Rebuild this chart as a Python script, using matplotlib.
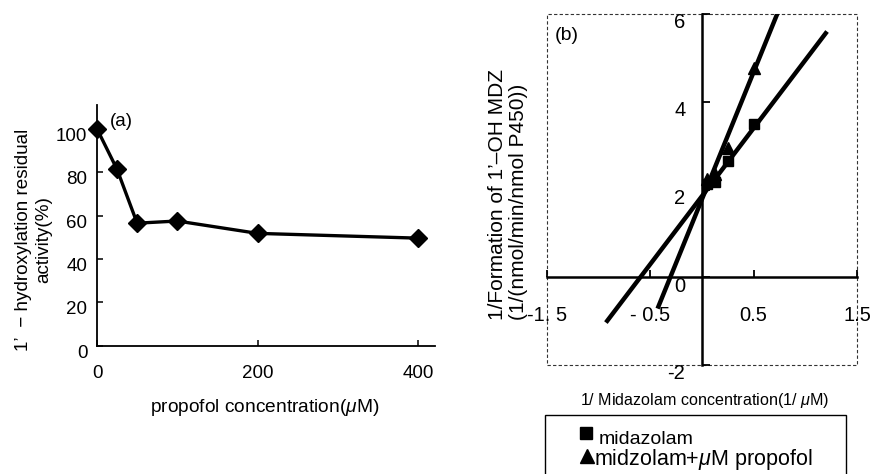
import matplotlib
matplotlib.use("Agg")
import matplotlib.pyplot as plt
import matplotlib.transforms as mtransforms
from matplotlib.patches import Rectangle
from matplotlib.lines import Line2D
import numpy as np

plt.rcParams['font.family'] = ['Liberation Sans', 'DejaVu Sans']
plt.rcParams['mathtext.fontset'] = 'custom'
plt.rcParams['mathtext.rm'] = 'Liberation Sans'
plt.rcParams['mathtext.it'] = 'Liberation Sans:italic'

# ---- panel (a) data ----
propofol_conc = [0, 25, 50, 100, 200, 400]
residual_activity = [100, 81.3, 56.5, 57.5, 51.8, 49.6]
a_xticks = [0, 200, 400]
a_yticks = [0, 20, 40, 60, 80, 100]

# ---- panel (b) data ----
inv_mdz = [0.05, 0.125, 0.25, 0.5]
inv_rate_mdz = [2.12, 2.18, 2.65, 3.5]
inv_rate_prop = [2.25, 2.35, 2.95, 4.78]
fit_mdz = (3.1, 1.85)      # slope, intercept
fit_prop = (5.8, 1.78)
fit_mdz_range = (-0.93, 1.21)
fit_prop_range = (-0.43, 0.74)
b_xticks = [-1.5, -0.5, 0.5, 1.5]
b_xticklabels = ['-1. 5', '- 0.5', '0.5', '1.5']
b_yticks = [-2, 0, 2, 4, 6]
b_yticklabels = ['-2', '0', '2', '4', '6']
legend_labels = ['midazolam', r'midzolam+$\mu$M propofol']

W, H = 871, 474
fig = plt.figure(figsize=(W / 100, H / 100), dpi=100)

def fx(px):
    return px / W

def fy(py):
    return 1 - py / H

# ---------------- panel (a) ----------------
axa = fig.add_axes([fx(97), fy(345.7), fx(435) - fx(97), fy(105) - fy(345.7)])
axa.plot(propofol_conc, residual_activity, color='black', lw=2.4,
         marker='D', ms=9.5, mfc='black', mec='black', clip_on=False, zorder=5)
axa.set_xlim(0, 421)
axa.set_ylim(0, 111)
for s in ['top', 'right']:
    axa.spines[s].set_visible(False)
for s in ['left', 'bottom']:
    axa.spines[s].set_linewidth(1.3)
axa.set_xticks(a_xticks)
axa.set_yticks(a_yticks)
axa.tick_params(axis='x', direction='in', length=4.5, width=1.1, pad=14, labelsize=13.5)
axa.tick_params(axis='y', direction='in', length=4.5, width=1.1, pad=7, labelsize=13.5)
offa = mtransforms.ScaledTranslation(0, -4 / 72, fig.dpi_scale_trans)
for lab in axa.get_yticklabels():
    lab.set_transform(lab.get_transform() + offa)
fig.text(fx(110), fy(122), '(a)', fontsize=13.5, ha='left', va='center')
fig.text(fx(265), fy(407), r'propofol concentration($\mu$M)', fontsize=13.8,
         ha='center', va='center')
fig.text(fx(33.5), fy(240), '1’  − hydroxylation residual\nactivity(%)',
         rotation=90, fontsize=13.6, ha='center', va='center',
         multialignment='center', linespacing=1.25)

# ---------------- panel (b) ----------------
axb = fig.add_axes([fx(547), fy(365), fx(857) - fx(547), fy(14) - fy(365)])
axb.set_xlim(-1.5, 1.5)
axb.set_ylim(-2, 6)
xl = np.array(fit_mdz_range)
axb.plot(xl, fit_mdz[0] * xl + fit_mdz[1], color='black', lw=3.2, solid_capstyle='butt')
xl2 = np.array(fit_prop_range)
axb.plot(xl2, fit_prop[0] * xl2 + fit_prop[1], color='black', lw=3.2, solid_capstyle='butt')
axb.plot(inv_mdz, inv_rate_mdz, ls='none', marker='s', ms=7.5, color='black')
axb.plot(inv_mdz, inv_rate_prop, ls='none', marker='^', ms=9, color='black')

axb.spines['left'].set_position(('data', 0))
axb.spines['bottom'].set_position(('data', 0))
for s in ['left', 'bottom']:
    axb.spines[s].set_linewidth(1.8)
for s in ['top', 'right']:
    axb.spines[s].set_visible(False)
axb.add_patch(Rectangle((0, 0), 1, 1, transform=axb.transAxes, fill=False,
                        ls=(0, (3, 2)), lw=0.8, edgecolor='#333333', clip_on=False))
axb.set_xticks(b_xticks)
axb.set_xticklabels(b_xticklabels)
axb.set_yticks(b_yticks)
axb.set_yticklabels(b_yticklabels)
axb.tick_params(axis='x', direction='in', length=5, width=1.3, pad=21, labelsize=14.5)
axb.tick_params(axis='y', direction='in', length=6, width=1.3, pad=12, labelsize=14.5)
offb = mtransforms.ScaledTranslation(0, -5 / 72, fig.dpi_scale_trans)
for lab in axb.get_yticklabels():
    lab.set_transform(lab.get_transform() + offb)
fig.text(fx(555), fy(36), '(b)', fontsize=14, ha='left', va='center')
fig.text(fx(705), fy(401), r'1/ Midazolam concentration(1/ $\mu$M)', fontsize=11.6,
         ha='center', va='center')
fig.text(fx(508), fy(320), '1/Formation of 1’–OH MDZ\n(1/(nmol/min/nmol P450))',
         rotation=90, fontsize=15, ha='center', va='bottom',
         multialignment='left', linespacing=1.15)

# legend box (cut by figure bottom)
fig.patches.append(Rectangle((fx(545), fy(490)), fx(846) - fx(545), fy(415) - fy(490),
                             transform=fig.transFigure, fill=False, lw=1.0,
                             edgecolor='black'))
fig.add_artist(Line2D([fx(586)], [fy(432.5)], marker='s', ms=8.5, color='black',
                      ls='none', transform=fig.transFigure))
fig.add_artist(Line2D([fx(586.5)], [fy(455.5)], marker='^', ms=9.5, color='black',
                      ls='none', transform=fig.transFigure))
fig.text(fx(599), fy(439), legend_labels[0], fontsize=14, ha='left', va='center')
fig.text(fx(594), fy(459), legend_labels[1], fontsize=15.5, ha='left', va='center')

fig.savefig('out.png', dpi=100)
